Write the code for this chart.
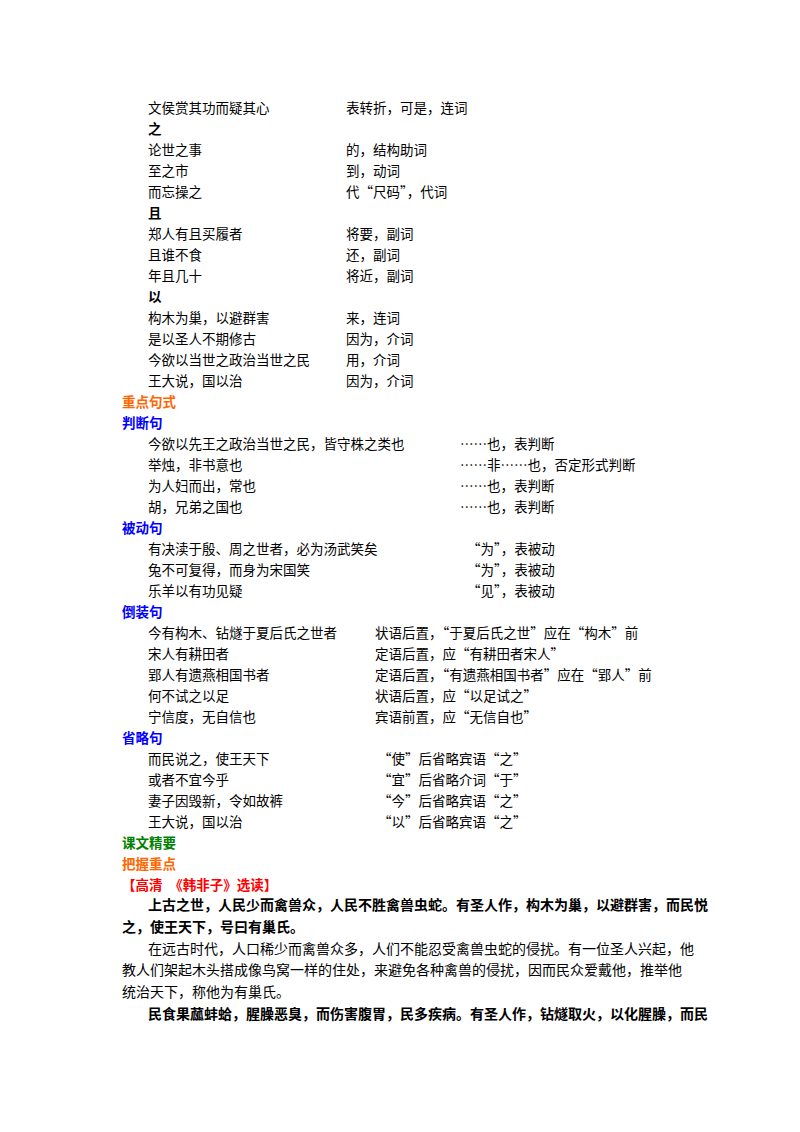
<!DOCTYPE html>
<html><head><meta charset="utf-8">
<script src="https://cdn.jsdelivr.net/npm/chart.js@4/dist/chart.umd.min.js"></script>
<style>
body{margin:0;width:800px;height:1132px;background:#fff;position:relative;font-family:"Noto Sans CJK SC",sans-serif;font-size:13.5px;color:#000}
.r{position:absolute;white-space:nowrap;line-height:20px}
.b{font-weight:bold}
.l{position:absolute;right:120px;white-space:nowrap;font-size:14px;line-height:20px;text-align:justify;text-align-last:justify}
</style></head><body>
<script>
// [left text, right text, right x, type]
const rows = [
 ["文侯赏其功而疑其心","表转折，可是，连词",346],
 ["之","",0,"h"],
 ["论世之事","的，结构助词",346],
 ["至之市","到，动词",346],
 ["而忘操之","代“尺码”，代词",346],
 ["且","",0,"h"],
 ["郑人有且买履者","将要，副词",346],
 ["且谁不食","还，副词",346],
 ["年且几十","将近，副词",346],
 ["以","",0,"h"],
 ["构木为巢，以避群害","来，连词",346],
 ["是以圣人不期修古","因为，介词",346],
 ["今欲以当世之政治当世之民","用，介词",346],
 ["王大说，国以治","因为，介词",346],
 ["重点句式","",0,"#ff6600"],
 ["判断句","",0,"#0000ff"],
 ["今欲以先王之政治当世之民，皆守株之类也","……也，表判断",460],
 ["举烛，非书意也","……非……也，否定形式判断",460],
 ["为人妇而出，常也","……也，表判断",460],
 ["胡，兄弟之国也","……也，表判断",460],
 ["被动句","",0,"#0000ff"],
 ["有决渎于殷、周之世者，必为汤武笑矣","“为”，表被动",467],
 ["兔不可复得，而身为宋国笑","“为”，表被动",467],
 ["乐羊以有功见疑","“见”，表被动",467],
 ["倒装句","",0,"#0000ff"],
 ["今有构木、钻燧于夏后氏之世者","状语后置，“于夏后氏之世”应在“构木”前",375],
 ["宋人有耕田者","定语后置，应“有耕田者宋人”",375],
 ["郢人有遗燕相国书者","定语后置，“有遗燕相国书者”应在“郢人”前",375],
 ["何不试之以足","状语后置，应“以足试之”",375],
 ["宁信度，无自信也","宾语前置，应“无信自也”",375],
 ["省略句","",0,"#0000ff"],
 ["而民说之，使王天下","“使”后省略宾语“之”",378],
 ["或者不宜今乎","“宜”后省略介词“于”",378],
 ["妻子因毁新，令如故裤","“今”后省略宾语“之”",378],
 ["王大说，国以治","“以”后省略宾语“之”",378],
 ["课文精要","",0,"#008000"],
 ["把握重点","",0,"#ff6600"],
 ["【高清　《韩非子》选读】","",0,"#ff0000"]
];
// [text, left x, bold, justify]
const lines = [
 ["上古之世，人民少而禽兽众，人民不胜禽兽虫蛇。有圣人作，构木为巢，以避群害，而民悦",148,true,true],
 ["之，使王天下，号曰有巢氏。",122,true,false],
 ["在远古时代，人口稀少而禽兽众多，人们不能忍受禽兽虫蛇的侵扰。有一位圣人兴起，他",148,false,true],
 ["教人们架起木头搭成像鸟窝一样的住处，来避免各种禽兽的侵扰，因而民众爱戴他，推举他",122,false,true],
 ["统治天下，称他为有巢氏。",122,false,false],
 ["民食果蓏蚌蛤，腥臊恶臭，而伤害腹胃，民多疾病。有圣人作，钻燧取火，以化腥臊，而民",148,true,true]
];
rows.forEach((r,i)=>{
  const y = 97 + i*21;
  const d = document.createElement('div'); d.className='r'; d.style.top=y+'px';
  if(r[3]==='h'){d.classList.add('b');d.style.left='148px';}
  else if(r[3]){d.classList.add('b');d.style.left='122px';d.style.color=r[3];}
  else d.style.left='148px';
  d.textContent=r[0]; document.body.appendChild(d);
  if(r[1]){const e=document.createElement('div');e.className='r';e.style.top=y+'px';e.style.left=r[2]+'px';e.textContent=r[1];document.body.appendChild(e);}
});
lines.forEach((l,i)=>{
  const d=document.createElement('div'); d.className='l';
  d.style.top=(894+i*21.8)+'px'; d.style.left=l[1]+'px';
  if(!l[3]){d.style.right='auto';d.style.textAlignLast='left';}
  if(l[2]) d.style.fontWeight='bold';
  d.textContent=l[0]; document.body.appendChild(d);
});
</script>
</body></html>
